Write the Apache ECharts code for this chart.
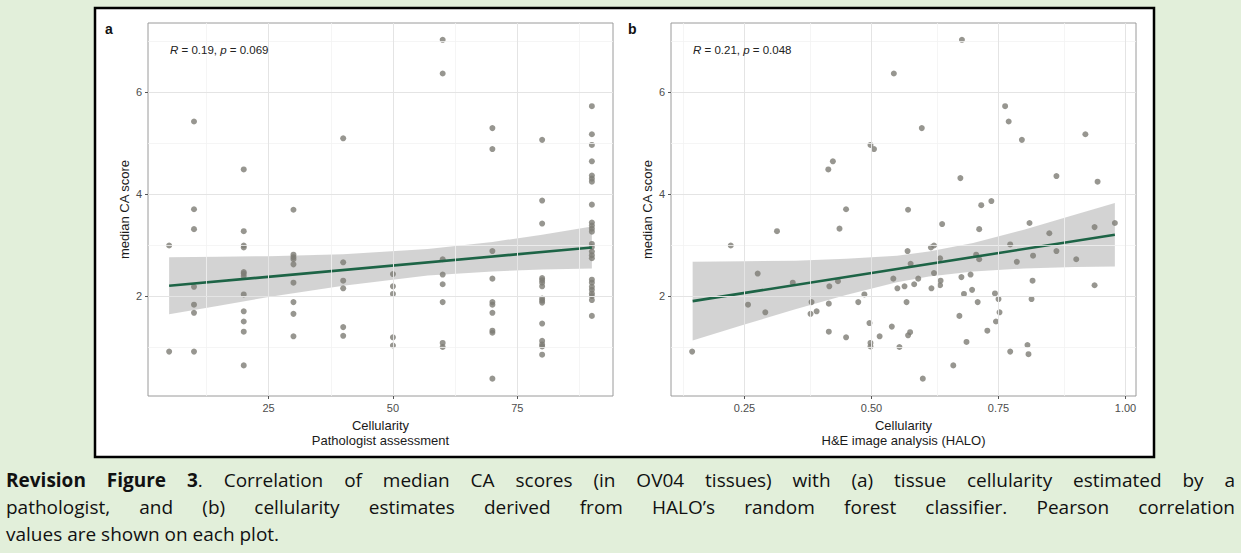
<!DOCTYPE html>
<html><head><meta charset="utf-8">
<script src="https://cdn.jsdelivr.net/npm/echarts@6.0.0/dist/echarts.min.js"></script>
<style>
html,body{margin:0;padding:0;background:#e2efda;width:1241px;height:553px;overflow:hidden;}
#chart{position:absolute;left:0;top:0;width:1241px;height:553px;}
.cap{position:absolute;left:6px;width:1229px;font-family:'Open Sans',Lato,sans-serif;font-size:19px;line-height:27px;color:#111;text-align:justify;text-align-last:justify;white-space:nowrap;}
.cap.last{text-align:left;text-align-last:left;}
</style></head><body>
<div id="chart"></div>
<div class="cap" style="top:467px"><b>Revision Figure 3</b>. Correlation of median CA scores (in OV04 tissues) with (a) tissue cellularity estimated by a</div>
<div class="cap" style="top:494px">pathologist, and (b) cellularity estimates derived from HALO’s random forest classifier. Pearson correlation</div>
<div class="cap last" style="top:521px">values are shown on each plot.</div>
<script>
// ---------- Panel a: pathologist cellularity levels and scores ----------
const pathLevels = [5, 10, 20, 30, 40, 50, 60, 70, 80, 90];
const pathAt05 = [2.99, 0.91];
const pathAt10 = [5.42, 3.70, 3.31, 2.18, 1.83, 1.67, 0.91];
const pathAt20 = [4.48, 3.27, 2.99, 2.95, 2.47, 2.44, 2.39, 2.03, 1.70, 1.50, 1.30, 0.64];
const pathAt30 = [3.69, 2.81, 2.76, 2.72, 2.62, 2.26, 1.88, 1.65, 1.21];
const pathAt40 = [5.09, 2.66, 2.30, 2.15, 1.39, 1.22];
const pathAt50 = [2.43, 2.19, 2.04, 1.19, 1.03];
const pathAt60 = [7.02, 6.36, 2.72, 2.42, 2.23, 1.88, 1.08, 1.00];
const pathAt70 = [5.29, 4.88, 2.88, 2.34, 1.88, 1.83, 1.67, 1.32, 1.28, 0.38];
const pathAt80 = [5.06, 3.87, 3.42, 2.35, 2.31, 2.26, 2.19, 1.95, 1.91, 1.87, 1.46, 1.12, 1.05, 1.01, 0.85];
const pathAt90 = [5.72, 5.17, 4.96, 4.64, 4.36, 4.30, 4.24, 3.79, 3.44, 3.38, 3.32, 3.26, 3.02, 2.96, 2.87, 2.80, 2.74, 2.32, 2.26, 2.18, 2.12, 2.05, 2.00, 1.92, 1.61];
const pathScores = [pathAt05, pathAt10, pathAt20, pathAt30, pathAt40, pathAt50, pathAt60, pathAt70, pathAt80, pathAt90];

// regression line and confidence band, panel a
const fitA_x = [5, 90];
const fitA_y = [2.20, 2.95];
const bandA_x  = [5, 15, 25, 40, 57, 70, 80, 90];
const bandA_lo = [1.64, 1.81, 1.98, 2.20, 2.40, 2.48, 2.52, 2.54];
const bandA_hi = [2.76, 2.77, 2.78, 2.82, 2.92, 3.06, 3.20, 3.36];

// ---------- Panel b: HALO cellularity and scores ----------
const haloCellularity = [
  0.678, 0.544, 0.763, 0.770, 0.599, 0.796, 0.921, 0.498, 0.505, 0.424, 0.415, 0.675, 0.864, 0.945,
  0.147, 0.223, 0.257, 0.276, 0.291, 0.314, 0.345, 0.380, 0.382, 0.392, 0.416, 0.417, 0.416, 0.434,
  0.437, 0.450, 0.450, 0.474, 0.486, 0.496, 0.498, 0.498, 0.516, 0.540, 0.543, 0.551, 0.555, 0.565,
  0.569, 0.571, 0.572, 0.572, 0.576, 0.577, 0.584, 0.592, 0.601, 0.618, 0.617, 0.623, 0.623, 0.635,
  0.635, 0.636, 0.639, 0.661, 0.673, 0.677, 0.682, 0.687, 0.695, 0.698, 0.706, 0.709, 0.712, 0.712,
  0.716, 0.728, 0.736, 0.743, 0.745, 0.750, 0.752, 0.773, 0.773, 0.786, 0.807, 0.809, 0.811, 0.815,
  0.817, 0.818, 0.850, 0.864, 0.903, 0.939, 0.939, 0.979
];
const haloScore = [
  7.02, 6.36, 5.72, 5.42, 5.29, 5.06, 5.17, 4.96, 4.88, 4.64, 4.48, 4.31, 4.35, 4.24,
  0.91, 2.99, 1.83, 2.44, 1.68, 3.27, 2.26, 1.65, 1.88, 1.70, 1.30, 2.19, 1.85, 2.29,
  3.32, 1.19, 3.70, 1.88, 2.03, 1.47, 1.08, 1.01, 1.21, 1.40, 2.34, 2.15, 1.00, 2.19,
  1.88, 2.88, 3.69, 1.23, 1.29, 2.63, 2.23, 2.34, 0.38, 2.15, 2.95, 2.99, 2.45, 2.74,
  2.21, 2.30, 3.41, 0.64, 1.61, 2.37, 2.04, 1.10, 2.42, 2.12, 2.81, 1.88, 3.31, 2.72,
  3.78, 1.32, 3.86, 2.05, 1.50, 1.94, 1.68, 3.01, 0.91, 2.67, 1.04, 0.86, 3.43, 1.94,
  2.30, 2.79, 3.23, 2.88, 2.72, 2.21, 3.35, 3.43
];

// regression line and confidence band, panel b
const fitB_x = [0.148, 0.979];
const fitB_y = [1.90, 3.20];
const bandB_x  = [0.148, 0.25, 0.35, 0.45, 0.55, 0.613, 0.70, 0.80, 0.90, 0.979];
const bandB_lo = [1.13, 1.44, 1.74, 2.02, 2.27, 2.38, 2.48, 2.54, 2.57, 2.58];
const bandB_hi = [2.67, 2.68, 2.69, 2.73, 2.79, 2.87, 3.04, 3.30, 3.59, 3.82];

// tick labels
const ticksA_x = [25, 50, 75];
const ticksB_x = [0.25, 0.50, 0.75, 1.00];
const ticks_y = [2, 4, 6];
const minorA_x = [12.5, 37.5, 62.5, 87.5];
const minorB_x = [0.125, 0.375, 0.625, 0.875];
const minor_y = [1, 3, 5, 7];

// ---------- build ----------
const pointsA = [];
pathLevels.forEach((lv, i) => pathScores[i].forEach(v => pointsA.push([lv, v])));
const pointsB = haloCellularity.map((x, i) => [x, haloScore[i]]);

const FONT = '"Liberation Sans", Arial, sans-serif';
const tickLabelStyle = {color: '#4d4d4d', fontSize: 11, fontFamily: FONT};

function xAxisDef(idx, min, max, ticks, name, fmt) {
  return {
    type: 'value', gridIndex: idx, min: min, max: max,
    axisLine: {show: false},
    axisTick: {show: true, customValues: ticks, length: 3, lineStyle: {color: '#555'}},
    axisLabel: Object.assign({customValues: ticks, margin: 6, formatter: fmt}, tickLabelStyle),
    splitLine: {show: false},
    name: name, nameLocation: 'middle', nameGap: 19,
    nameTextStyle: {fontSize: 13, color: '#1a1a1a', fontFamily: FONT, lineHeight: 15}
  };
}
function yAxisDef(idx) {
  return {
    type: 'value', gridIndex: idx, min: 0.04, max: 7.35,
    axisLine: {show: false},
    axisTick: {show: true, customValues: ticks_y, length: 3, lineStyle: {color: '#555'}},
    axisLabel: Object.assign({customValues: ticks_y, margin: 6}, tickLabelStyle),
    splitLine: {show: false},
    name: 'median CA score', nameLocation: 'middle', nameGap: 17,
    nameTextStyle: {fontSize: 13, color: '#1a1a1a', fontFamily: FONT}
  };
}
function gridLines(idx, xMaj, xMin) {
  const minorStyle = {color: '#f2f2f2', width: 0.8, type: 'solid'};
  const majorStyle = {color: '#e4e4e4', width: 1, type: 'solid'};
  const d = [];
  xMin.forEach(v => d.push({xAxis: v, lineStyle: minorStyle}));
  minor_y.forEach(v => d.push({yAxis: v, lineStyle: minorStyle}));
  xMaj.forEach(v => d.push({xAxis: v, lineStyle: majorStyle}));
  ticks_y.forEach(v => d.push({yAxis: v, lineStyle: majorStyle}));
  return {
    type: 'line', xAxisIndex: idx, yAxisIndex: idx, data: [], z: 1, silent: true,
    markLine: {silent: true, symbol: ['none', 'none'], label: {show: false}, animation: false, data: d}
  };
}
function bandSeries(idx, bx, lo, hi) {
  return {
    type: 'custom', xAxisIndex: idx, yAxisIndex: idx, z: 2, silent: true,
    data: bx.map((x, i) => [x, lo[i], hi[i]]),
    encode: {x: 0, y: [1, 2]},
    renderItem: function (params, api) {
      if (params.dataIndex !== 0) return null;
      const top = [], bot = [];
      for (let i = 0; i < bx.length; i++) {
        top.push(api.coord([bx[i], hi[i]]));
        bot.unshift(api.coord([bx[i], lo[i]]));
      }
      return {type: 'polygon', shape: {points: top.concat(bot)}, style: {fill: 'rgba(150,150,150,0.42)'}};
    }
  };
}
function scatterSeries(idx, pts) {
  return {type: 'scatter', xAxisIndex: idx, yAxisIndex: idx, data: pts, symbolSize: 6, z: 3,
          itemStyle: {color: '#7d7c74'}, silent: true};
}
function fitSeries(idx, fx, fy) {
  return {type: 'line', xAxisIndex: idx, yAxisIndex: idx, data: fx.map((x, i) => [x, fy[i]]),
          showSymbol: false, z: 4, silent: true, lineStyle: {color: '#1d6446', width: 2.6}};
}
function annot(left, text) {
  return {type: 'text', left: left, top: 44, z: 10,
    style: {text: text, fill: '#222', font: '11.5px ' + FONT,
      rich: {i: {fontStyle: 'italic', fontSize: 11.5, fontFamily: FONT, fill: '#222'}}}};
}

const chart = echarts.init(document.getElementById('chart'), null, {renderer: 'svg', width: 1241, height: 553});
chart.setOption({
  backgroundColor: '#e2efda',
  animation: false,
  grid: [
    {left: 148, top: 23, width: 465, height: 373, show: true, borderColor: '#9a9a9a', borderWidth: 1, backgroundColor: 'transparent'},
    {left: 671, top: 23, width: 465, height: 373, show: true, borderColor: '#9a9a9a', borderWidth: 1, backgroundColor: 'transparent'}
  ],
  xAxis: [
    xAxisDef(0, 0.75, 94.25, ticksA_x, 'Cellularity\nPathologist assessment', v => String(v)),
    xAxisDef(1, 0.1054, 1.0206, ticksB_x, 'Cellularity\nH&E image analysis (HALO)', v => v.toFixed(2))
  ],
  yAxis: [yAxisDef(0), yAxisDef(1)],
  graphic: [
    {type: 'rect', shape: {x: 95, y: 8, width: 1059, height: 449}, z: -10,
     style: {fill: '#ffffff', stroke: '#000000', lineWidth: 2.5}},
    {type: 'text', left: 105, top: 22, style: {text: 'a', fill: '#111', font: 'bold 14px ' + FONT}},
    {type: 'text', left: 628, top: 22, style: {text: 'b', fill: '#111', font: 'bold 14px ' + FONT}},
    annot(170, '{i|R} = 0.19, {i|p} = 0.069'),
    annot(693, '{i|R} = 0.21, {i|p} = 0.048')
  ],
  series: [
    gridLines(0, ticksA_x, minorA_x),
    gridLines(1, ticksB_x, minorB_x),
    bandSeries(0, bandA_x, bandA_lo, bandA_hi),
    bandSeries(1, bandB_x, bandB_lo, bandB_hi),
    scatterSeries(0, pointsA),
    scatterSeries(1, pointsB),
    fitSeries(0, fitA_x, fitA_y),
    fitSeries(1, fitB_x, fitB_y)
  ]
});
</script>
</body></html>
